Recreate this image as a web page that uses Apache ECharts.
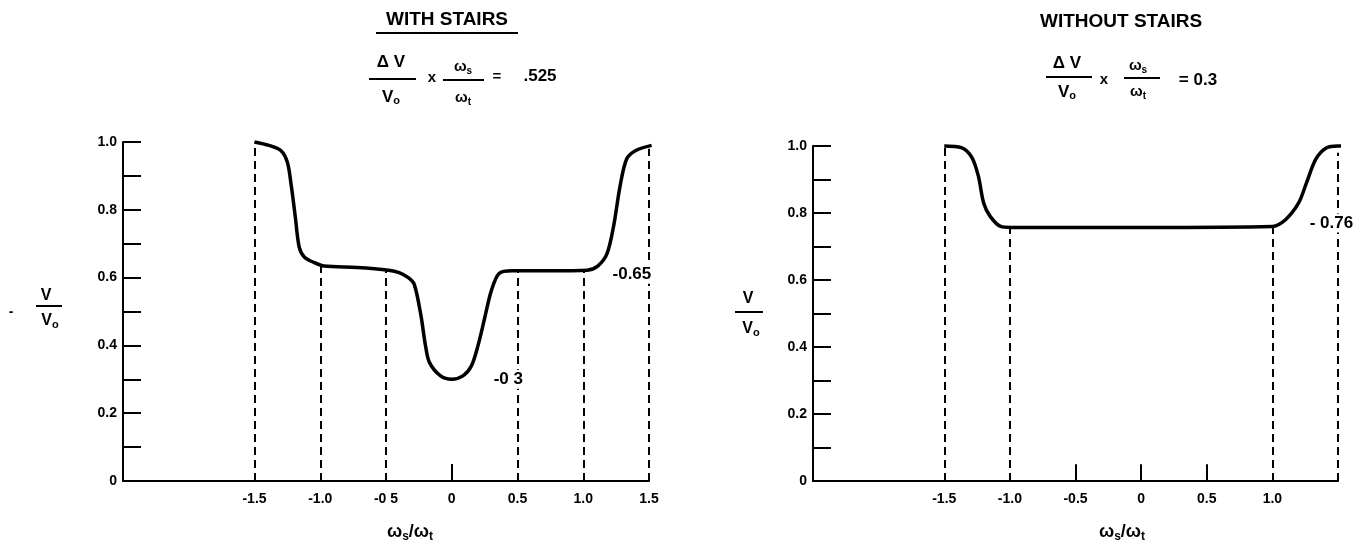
<!DOCTYPE html>
<html>
<head>
<meta charset="utf-8">
<script src="https://cdn.jsdelivr.net/npm/echarts@6/dist/echarts.min.js"></script>
<style>
  html, body { margin: 0; padding: 0; background: #fff; }
  #chart { width: 1365px; height: 558px; }
</style>
</head>
<body>
<div id="chart"></div>
<script>
const FONT = "'Liberation Sans', Arial, sans-serif";

// y axis (shared)
const yTicks = [0, 0.2, 0.4, 0.6, 0.8, 1.0];
const yLabels = ["0", "0.2", "0.4", "0.6", "0.8", "1.0"];

// left panel: with stairs
const stairsX = [-1.5, -1.39, -1.3, -1.25, -1.22, -1.19, -1.16, -1.12, -1.05, -0.97, -0.72, -0.48, -0.4, -0.33,
  -0.285, -0.235, -0.2, -0.17, -0.085, 0, 0.085, 0.15, 0.2, 0.25, 0.3, 0.36, 0.46, 0.75, 1.03, 1.11, 1.18,
  1.23, 1.28, 1.33, 1.4, 1.52];
const stairsY = [1.0, 0.99, 0.975, 0.94, 0.87, 0.78, 0.69, 0.66, 0.645, 0.634, 0.63, 0.622, 0.615, 0.6,
  0.58, 0.49, 0.4, 0.35, 0.31, 0.3, 0.31, 0.34, 0.4, 0.48, 0.56, 0.612, 0.62, 0.62, 0.622, 0.634, 0.67,
  0.75, 0.87, 0.95, 0.975, 0.99];
const stairsGuideX = [-1.5, -1.0, -0.5, 0.5, 1.0, 1.5];
const stairsGuideTop = [1.0, 0.635, 0.622, 0.62, 0.622, 0.98];
const stairsTickX = [0];
const stairsXTicks = [-1.5, -1.0, -0.5, 0, 0.5, 1.0, 1.5];
const stairsXLabels = ["-1.5", "-1.0", "-0 5", "0", "0.5", "1.0", "1.5"];
const stairsNotes = [[1.37, 0.61, "-0.65"], [0.43, 0.3, "-0 3"]];

// right panel: without stairs
const plainX = [-1.5, -1.37, -1.29, -1.24, -1.2, -1.15, -1.07, -0.99, 0, 1.0, 1.1, 1.2, 1.26, 1.33, 1.41, 1.5, 1.57];
const plainY = [1.0, 0.995, 0.966, 0.91, 0.83, 0.79, 0.76, 0.757, 0.757, 0.76, 0.78, 0.83, 0.89, 0.96, 0.994, 1.0, 1.0];
const plainGuideX = [-1.5, -1.0, 1.0, 1.5];
const plainGuideTop = [1.0, 0.757, 0.76, 0.98];
const plainTickX = [-0.5, 0, 0.5];
const plainXTicks = [-1.5, -1.0, -0.5, 0, 0.5, 1.0];
const plainXLabels = ["-1.5", "-1.0", "-0.5", "0", "0.5", "1.0"];
const plainNotes = [[1.45, 0.77, "- 0.76"]];

const TICK_H = 0.05;

function pick(ticks, labels, v) {
  const i = ticks.findIndex((t) => Math.abs(t - v) < 1e-6);
  return i < 0 ? "" : labels[i];
}

function xAxisFor(gridIndex, ticks, labels) {
  return {
    type: "value",
    gridIndex: gridIndex,
    min: -2.5,
    max: 1.5,
    interval: 0.5,
    axisLine: { onZero: false, lineStyle: { color: "#000", width: 2 } },
    axisTick: { show: false },
    splitLine: { show: false },
    axisLabel: {
      margin: 11,
      color: "#000",
      fontFamily: FONT,
      fontWeight: "bold",
      fontSize: 14,
      formatter: (v) => pick(ticks, labels, v),
    },
  };
}

function yAxisFor(gridIndex) {
  return {
    type: "value",
    gridIndex: gridIndex,
    min: 0,
    max: 1,
    interval: 0.2,
    axisLine: { show: true, onZero: false, lineStyle: { color: "#000", width: 2 } },
    axisTick: { show: true, inside: true, length: 18, lineStyle: { color: "#000", width: 2 } },
    minorTick: { show: true, splitNumber: 2, length: 18, lineStyle: { color: "#000", width: 2 } },
    splitLine: { show: false },
    axisLabel: {
      margin: 6,
      color: "#000",
      fontFamily: FONT,
      fontWeight: "bold",
      fontSize: 14,
      formatter: (v) => pick(yTicks, yLabels, v),
    },
  };
}

function curve(idx, xs, ys) {
  return {
    type: "line",
    xAxisIndex: idx,
    yAxisIndex: idx,
    data: xs.map((x, i) => [x, ys[i]]),
    showSymbol: false,
    symbol: "none",
    smooth: 0.3,
    clip: false,
    lineStyle: { color: "#000", width: 3.5 },
    animation: false,
  };
}

function guides(idx, xs, tops, dashed) {
  return {
    type: "lines",
    coordinateSystem: "cartesian2d",
    xAxisIndex: idx,
    yAxisIndex: idx,
    data: xs.map((x, i) => ({ coords: [[x, 0], [x, tops[i]]] })),
    lineStyle: { color: "#000", width: 2, type: dashed ? [8, 5] : "solid", opacity: 1 },
    silent: true,
    animation: false,
    z: 2,
  };
}

function notes(idx, list) {
  return {
    type: "scatter",
    xAxisIndex: idx,
    yAxisIndex: idx,
    data: list,
    symbolSize: 1,
    itemStyle: { color: "rgba(0,0,0,0)" },
    label: {
      show: true,
      position: "inside",
      color: "#000",
      opacity: 1,
      fontFamily: FONT,
      fontWeight: "bold",
      fontSize: 17,
      backgroundColor: "#fff",
      padding: [1, 1],
      formatter: (p) => p.data[2],
    },
    emphasis: { disabled: true },
    silent: true,
    animation: false,
    z: 10,
  };
}

function txt(x, y, text, size, align) {
  return {
    type: "text",
    x: x,
    y: y,
    style: {
      text: text,
      fill: "#000",
      fontFamily: FONT,
      fontWeight: "bold",
      fontSize: size,
      align: align || "center",
      verticalAlign: "middle",
    },
  };
}

function richTxt(x, y, text, size, subSize) {
  return {
    type: "text",
    x: x,
    y: y,
    style: {
      text: text,
      fill: "#000",
      align: "center",
      verticalAlign: "middle",
      rich: {
        m: { fontFamily: FONT, fontWeight: "bold", fontSize: size, fill: "#000" },
        s: { fontFamily: FONT, fontWeight: "bold", fontSize: subSize, fill: "#000", padding: [size * 0.5, 0, 0, 0] },
      },
    },
  };
}

function hline(x1, x2, y, w) {
  return { type: "line", shape: { x1: x1, y1: y, x2: x2, y2: y }, style: { stroke: "#000", lineWidth: w || 2 } };
}

const graphics = [
  // left heading
  txt(447, 20, "WITH STAIRS", 19),
  hline(376, 518, 33),
  richTxt(391, 62, "{m|\u0394 V}", 17, 11),
  hline(369, 416, 79),
  richTxt(391, 97, "{m|V}{s|o}", 17, 11),
  txt(432, 78, "x", 15),
  richTxt(463, 67, "{m|\u03c9}{s|s}", 15, 10),
  hline(443, 484, 80),
  richTxt(463, 98, "{m|\u03c9}{s|t}", 15, 10),
  txt(497, 77, "=", 15),
  txt(540, 76, ".525", 17),
  // right heading
  txt(1040, 22, "WITHOUT STAIRS", 19, "left"),
  richTxt(1067, 63, "{m|\u0394 V}", 17, 11),
  hline(1046, 1092, 77),
  richTxt(1067, 92, "{m|V}{s|o}", 17, 11),
  txt(1104, 80, "x", 15),
  richTxt(1138, 66, "{m|\u03c9}{s|s}", 15, 10),
  hline(1124, 1160, 78),
  richTxt(1138, 92, "{m|\u03c9}{s|t}", 15, 10),
  txt(1198, 80, "= 0.3", 17),
  // y axis names
  txt(11, 312, "-", 14),
  txt(46, 296, "V", 16),
  hline(36, 62, 306),
  richTxt(50, 321, "{m|V}{s|o}", 16, 11),
  txt(748, 299, "V", 16),
  hline(735, 763, 312),
  richTxt(751, 329, "{m|V}{s|o}", 16, 11),
  // x axis names
  richTxt(410, 532, "{m|\u03c9}{s|s}{m|/\u03c9}{s|t}", 18, 12),
  richTxt(1122, 532, "{m|\u03c9}{s|s}{m|/\u03c9}{s|t}", 18, 12),
];

const option = {
  backgroundColor: "#fff",
  animation: false,
  grid: [
    { left: 123, top: 142, width: 526, height: 339 },
    { left: 813, top: 146, width: 525, height: 335 },
  ],
  xAxis: [xAxisFor(0, stairsXTicks, stairsXLabels), xAxisFor(1, plainXTicks, plainXLabels)],
  yAxis: [yAxisFor(0), yAxisFor(1)],
  series: [
    guides(0, stairsGuideX, stairsGuideTop, true),
    guides(0, stairsTickX, stairsTickX.map(() => TICK_H), false),
    curve(0, stairsX, stairsY),
    notes(0, stairsNotes),
    guides(1, plainGuideX, plainGuideTop, true),
    guides(1, plainTickX, plainTickX.map(() => TICK_H), false),
    curve(1, plainX, plainY),
    notes(1, plainNotes),
  ],
  graphic: graphics,
};

const chart = echarts.init(document.getElementById("chart"));
chart.setOption(option);
window.addEventListener("resize", () => chart.resize());
</script>
</body>
</html>
